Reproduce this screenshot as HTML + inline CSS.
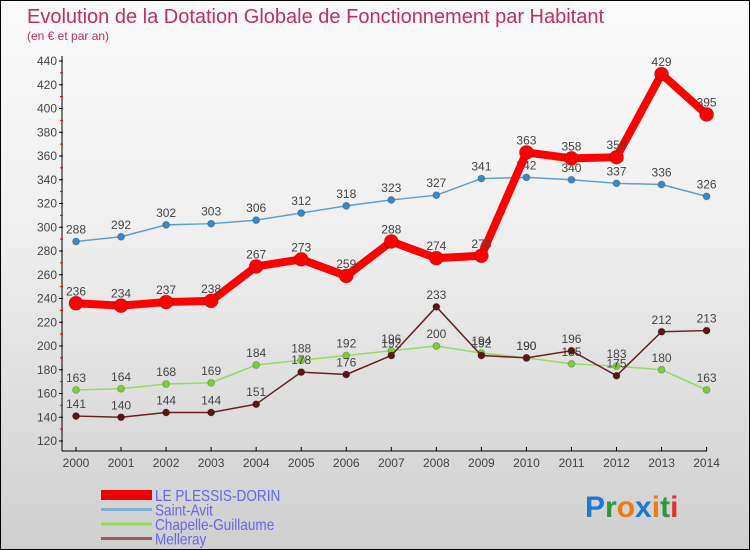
<!DOCTYPE html>
<html><head><meta charset="utf-8"><style>
body{margin:0}
#c{width:748px;height:548px;border:1px solid #000;background:linear-gradient(#fafafa,#f0f0f0 40%,#cfcfcf);position:relative;overflow:hidden;font-family:"Liberation Sans",sans-serif}
</style></head><body>
<div id="c">
<svg width="748" height="548" id="s">
<text x="26" y="22" font-size="20" fill="#c0305a">Evolution de la Dotation Globale de Fonctionnement par Habitant</text>
<text x="26" y="39" font-size="12" fill="#c0305a">(en € et par an)</text>
</svg>
</div>
<script>
const years=["2000","2001","2002","2003","2004","2005","2006","2007","2008","2009","2010","2011","2012","2013","2014"];
const plessis=[236,234,237,238,267,273,259,288,274,276,363,358,359,429,395];
const saintAvit=[288,292,302,303,306,312,318,323,327,341,342,340,337,336,326];
const chapelle=[163,164,168,169,184,188,192,196,200,194,190,185,183,180,163];
const melleray=[141,140,144,144,151,178,176,192,233,192,190,196,175,212,213];
const yTicks=[120,140,160,180,200,220,240,260,280,300,320,340,360,380,400,420,440];
const seriesNames=["LE PLESSIS-DORIN","Saint-Avit","Chapelle-Guillaume","Melleray"];
const s=document.getElementById('s');const NS="http://www.w3.org/2000/svg";
function X(i){return 75+i*(705.6-75)/14;}
function Y(v){return 60+(440-v)*1.1875;}
function mk(t,a,p){const e=document.createElementNS(NS,t);for(const k in a)e.setAttribute(k,a[k]);(p||s).appendChild(e);return e;}
let e=mk('line',{x1:61,y1:55,x2:61,y2:450,stroke:'#000'});


e=mk('line',{x1:61,y1:450,x2:706,y2:450,stroke:'#000'});


yTicks.forEach(v=>{const y=Y(v);mk('line',{x1:58,y1:y,x2:62,y2:y,stroke:'#000'});
if(v<440)mk('line',{x1:59,y1:y-11.9,x2:62,y2:y-11.9,stroke:'#e00'});
const t=mk('text',{x:56,y:y+4,'font-size':12,fill:'#444','text-anchor':'end'});t.textContent=v;

});
years.forEach((yr,i)=>{const x=X(i);mk('line',{x1:x,y1:446,x2:x,y2:450,stroke:'#000'});
const t=mk('text',{x:x,y:466,'font-size':12,fill:'#444','text-anchor':'middle'});t.textContent=yr;

});
function series(d,col,w,r,name,dot){const g=mk('g',{});


mk('polyline',{points:d.map((v,i)=>X(i)+','+Y(v)).join(' '),fill:'none',stroke:col,'stroke-width':w,'stroke-linejoin':'round'},g);
d.forEach((v,i)=>{const c=mk('circle',{cx:X(i),cy:Y(v),r:r,fill:dot,stroke:'#0003'},g);


const t=mk('text',{x:X(i),y:Y(v)-8,'font-size':12,fill:'#444','text-anchor':'middle'},g);t.textContent=v;});}
series(saintAvit,'#5aa0d8',1.5,3.5,'series-saint-avit','#3a88c8');
series(chapelle,'#90dd60',1.5,3.5,'series-chapelle-guillaume','#7ccc3c');
series(melleray,'#6a2020',1.5,3.5,'series-melleray','#5a1515');
series(plessis,'#f00',8,7,'series-le-plessis-dorin','#f00');
const cols=['#e00','#7ab0d8','#90dd60','#9a5a5a'],ws=[10,3,3,3];
seriesNames.forEach((n,i)=>{const y=494+i*14.5;const g=mk('g',{});


mk('line',{x1:100,y1:y,x2:151,y2:y,stroke:cols[i],'stroke-width':ws[i]},g);
const t=mk('text',{x:154,y:y+6,'font-size':16,fill:'#6666ee',transform:'translate(154 0) scale(0.85 1) translate(-154 0)'},g);t.textContent=n;});
const lg=mk('text',{x:584,y:516,'font-size':30,'font-weight':'bold'});


[['P','#1a7ad0'],['r','#2a9a3a'],['o','#f07a10'],['x','#1a7ad0'],['i','#f07a10'],['t','#2a9a3a'],['i','#e03030']].forEach(([c,f])=>{const ts=mk('tspan',{fill:f},lg);ts.textContent=c;});
</script>
</body></html>
